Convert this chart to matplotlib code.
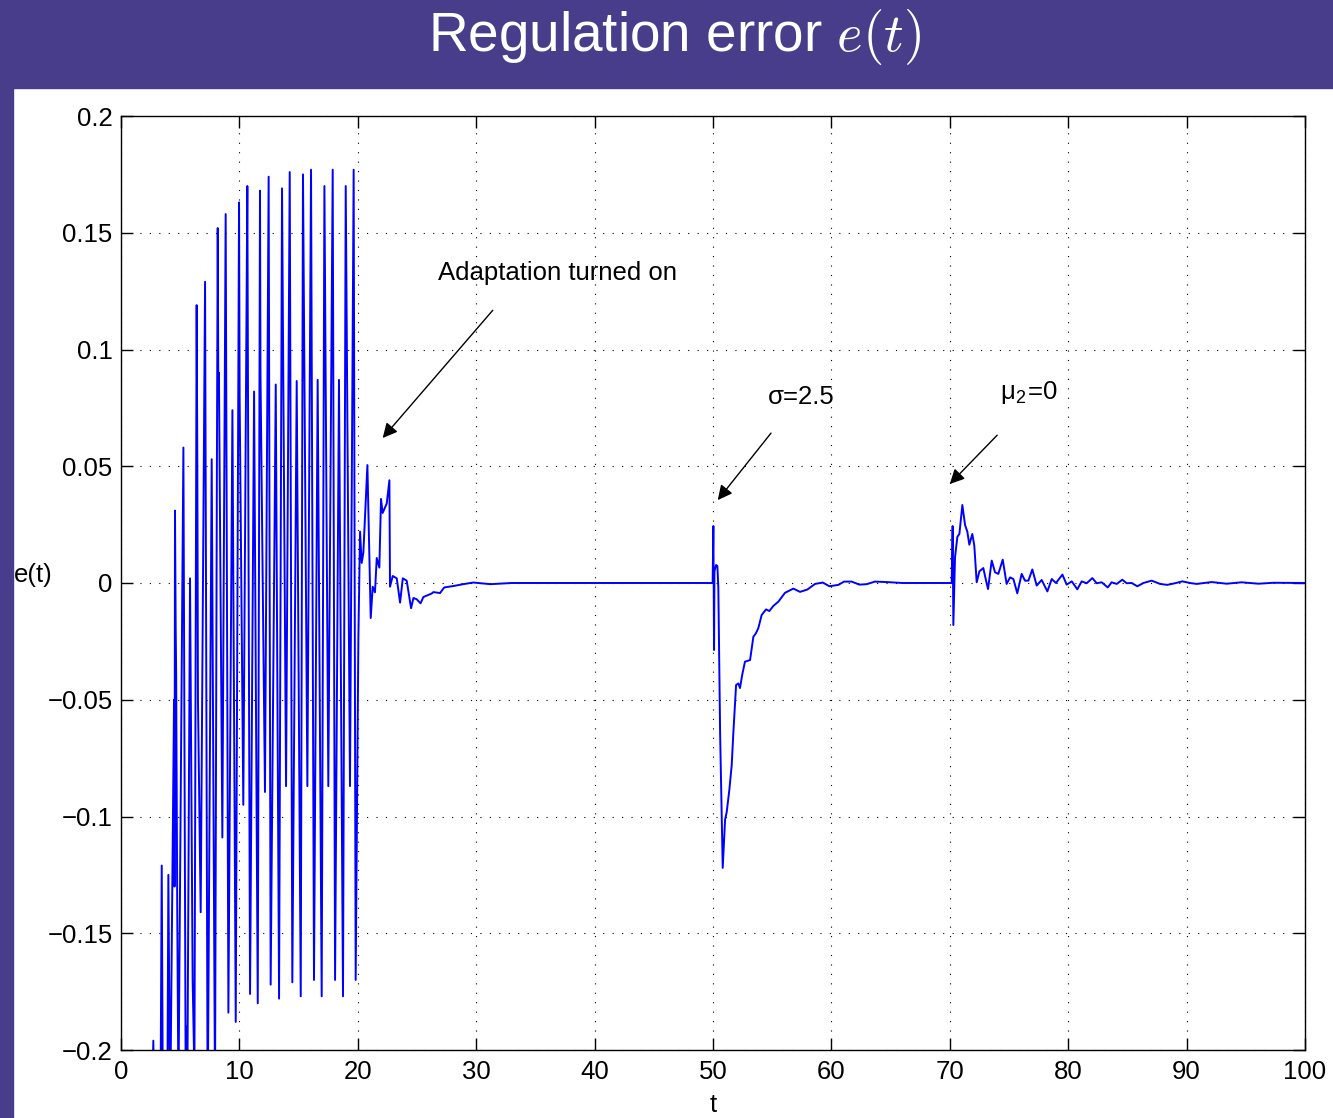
import matplotlib

matplotlib.use("Agg")
import matplotlib.pyplot as plt
from matplotlib.patches import Rectangle

plt.rcParams["font.family"] = ["Liberation Sans", "DejaVu Sans"]
plt.rcParams["mathtext.fontset"] = "cm"

# regulation error e(t)
t = [
    0.0, 2.6, 2.73, 2.85, 3.3, 3.44, 3.55, 3.9, 4.0, 4.15,
    4.48, 4.52, 4.56, 4.62, 4.66, 4.75, 4.85, 5.27, 5.46, 5.52,
    5.6, 5.83, 6.05, 6.2, 6.33, 6.39, 6.45, 6.5, 6.73, 7.1,
    7.32, 7.66, 7.94, 8.1, 8.17, 8.22, 8.27, 8.56, 8.84, 9.07,
    9.41, 9.69, 9.97, 10.02, 10.33, 10.67, 10.72, 10.9, 11.24, 11.55,
    11.7, 11.74, 11.78, 12.16, 12.47, 12.64, 13.07, 13.35, 13.6, 13.94,
    14.25, 14.47, 14.84, 15.18, 15.37, 15.74, 16.05, 16.3, 16.61, 16.95,
    17.18, 17.51, 17.88, 18.08, 18.41, 18.75, 18.98, 19.34, 19.65, 19.82,
    20.05, 20.19, 20.33, 20.47, 20.81, 21.09, 21.26, 21.45, 21.6, 21.82,
    21.96, 22.1, 22.44, 22.67, 22.72, 22.95, 23.29, 23.57, 23.8, 24.13,
    24.5, 24.7, 24.98, 25.3, 25.54, 26.24, 26.38, 26.95, 27.3, 28.07,
    28.9, 29.76, 31.2, 33.0, 40.0, 49.97,
    50.03, 50.09, 50.12, 50.26, 50.37, 50.45, 50.6, 50.82, 51.02, 51.16,
    51.38, 51.58, 51.72, 51.95, 52.14, 52.28, 52.48, 52.7, 53.13, 53.41,
    53.63, 53.83, 54.11, 54.48, 54.76, 55.1, 55.52, 56.08, 56.79, 57.35,
    57.97, 58.62, 59.27, 59.83, 60.59, 61.07, 61.71, 62.36, 62.98, 63.68,
    64.67, 66.0, 70.16,
    70.24, 70.30, 70.44, 70.64, 70.81, 71.06, 71.29, 71.48, 71.65, 71.9,
    72.07, 72.27, 72.5, 72.83, 73.0, 73.23, 73.54, 73.82, 74.1, 74.47,
    74.8, 75.09, 75.37, 75.7, 76.07, 76.35, 76.64, 76.97, 77.34, 77.76,
    78.24, 78.61, 78.97, 79.51, 79.87, 80.3, 80.77, 81.14, 81.56, 82.04,
    82.41, 82.83, 83.34, 83.67, 84.1, 84.57, 84.94, 85.36, 85.84, 86.35,
    87.05, 87.76, 88.37, 89.02, 89.64, 90.29, 90.85, 92.12, 93.39, 94.65,
    96.07, 97.33, 100.0,
]
e = [
    -0.30, -0.23, -0.196, -0.24, -0.26, -0.121, -0.24, -0.24, -0.125, -0.23,
    -0.05, -0.13, 0.031, -0.02, -0.039, -0.14, -0.22, 0.058, -0.21, -0.19,
    -0.22, 0.002, -0.17, -0.21, 0.005, 0.119, 0.046, -0.05, -0.141, 0.129,
    -0.23, 0.053, -0.22, 0.05, 0.152, 0.081, 0.09, -0.109, 0.158, -0.184,
    0.074, -0.188, 0.163, 0.08, -0.095, 0.170, 0.09, -0.176, 0.082, -0.18,
    0.09, 0.168, 0.09, -0.0895, 0.174, -0.172, 0.085, -0.178, 0.169, -0.087,
    0.176, -0.171, 0.0865, -0.177, 0.175, -0.087, 0.177, -0.170, 0.087, -0.177,
    0.170, -0.087, 0.177, -0.170, 0.087, -0.177, 0.170, -0.087, 0.177, -0.170,
    -0.023, 0.022, 0.0086, 0.013, 0.0505, -0.015, -0.0016, -0.004, 0.0107, 0.0066,
    0.036, 0.030, 0.034, 0.044, -0.0016, 0.003, 0.002, -0.0084, 0.002, 0.001,
    -0.0108, -0.0064, -0.007, -0.0087, -0.006, -0.0045, -0.0039, -0.0043, -0.0019, -0.0013,
    -0.0005, 0.0002, -0.0005, 0.0, 0.0, 0.0,
    0.0244, -0.0287, 0.005, 0.0077, 0.0073, -0.0019, -0.064, -0.122, -0.1014, -0.098,
    -0.0886, -0.078, -0.064, -0.0437, -0.043, -0.045, -0.039, -0.0337, -0.033, -0.023,
    -0.0215, -0.0193, -0.0137, -0.0113, -0.012, -0.0098, -0.008, -0.0042, -0.0024, -0.0038,
    -0.0028, -0.0004, 0.0002, -0.0014, -0.0008, 0.0006, 0.0006, -0.0007, -0.0005, 0.0006,
    0.0004, 0.0, 0.0,
    0.0244, -0.018, 0.011, 0.0198, 0.021, 0.0334, 0.0248, 0.022, 0.0164, 0.021,
    0.016, 0.0003, 0.005, 0.0064, 0.0024, -0.0026, 0.0096, 0.0046, 0.0039, 0.010,
    -0.0004, 0.0024, 0.0017, -0.0044, 0.0039, 0.001, 0.001, 0.0058, -0.0011, 0.0013,
    -0.0036, 0.0017, 0.0, 0.0036, -0.0007, 0.0007, -0.0027, 0.0007, -0.0001, 0.0021,
    -0.0001, 0.0003, -0.0019, 0.0003, -0.0004, 0.0014, -0.0001, 0.0, -0.0014, 0.0,
    0.001, -0.0004, -0.0008, -0.0001, 0.0007, 0.0, -0.0004, 0.0004, -0.0003, 0.0003,
    -0.0003, 0.0001, 0.0,
]

xticks = [0, 10, 20, 30, 40, 50, 60, 70, 80, 90, 100]
yticks = [-0.2, -0.15, -0.1, -0.05, 0, 0.05, 0.1, 0.15, 0.2]
ytick_labels = ["\u22120.2", "\u22120.15", "\u22120.1", "\u22120.05", "0",
                "0.05", "0.1", "0.15", "0.2"]

# annotations: (label, text pos, arrow tail, arrow head) in data units
notes = [
    ("Adaptation turned on", (26.8, 0.1327), (31.4, 0.1168), (22.1, 0.0621)),
    ("\u03c3=2.5", (54.6, 0.0796), (54.9, 0.0642), (50.4, 0.0355)),
    ("\u03bc$_\\mathregular{2}$=0", (74.2, 0.0815), (74.0, 0.0633), (70.0, 0.0424)),
]

purple = "#483D8B"
fs = 18.5

fig = plt.figure(figsize=(13.33, 11.18), dpi=100)
fig.patches.append(Rectangle((0, 1 - 88 / 1118), 1, 88 / 1118,
                             transform=fig.transFigure, color=purple, zorder=0))
fig.patches.append(Rectangle((0, 0), 13 / 1333, 1 - 88 / 1118,
                             transform=fig.transFigure, color=purple, zorder=0))
fig.text(0.506, 0.967, "Regulation error $e(t)$", color="white",
         fontsize=39.5, ha="center", va="center")

ax = fig.add_axes([121 / 1333, 1 - 1050 / 1118, 1184 / 1333, 934 / 1118])
ax.plot(t, e, color="#0000FF", lw=1.4)
ax.set_xlim(0, 100)
ax.set_ylim(-0.2, 0.2)
ax.set_xticks(xticks)
ax.set_xticklabels([str(v) for v in xticks])
ax.set_yticks(yticks)
ax.set_yticklabels(ytick_labels)
ax.tick_params(direction="in", length=8.5, width=1, labelsize=fs,
               top=True, right=True)
ax.tick_params(axis="x", pad=7)
ax.tick_params(axis="y", pad=6)
ax.grid(True, color="black", lw=0.8, linestyle=(0, (1, 7.5)))
for sp in ax.spines.values():
    sp.set_linewidth(1.0)

ax.set_xlabel("t", fontsize=fs, va="center")
ax.xaxis.set_label_coords(0.5, -0.059)
ax.set_ylabel("e(t)", fontsize=fs, rotation=0, ha="center", va="center")
ax.yaxis.set_label_coords(-0.074, 0.5086)

for label, txt, tail, head in notes:
    ax.text(txt[0], txt[1], label, fontsize=fs, ha="left", va="center")
    ax.annotate("", xy=head, xytext=tail,
                arrowprops=dict(arrowstyle="-|>", color="black", lw=1.0,
                                mutation_scale=22, shrinkA=0, shrinkB=0))

fig.savefig("out.png", dpi=100)
